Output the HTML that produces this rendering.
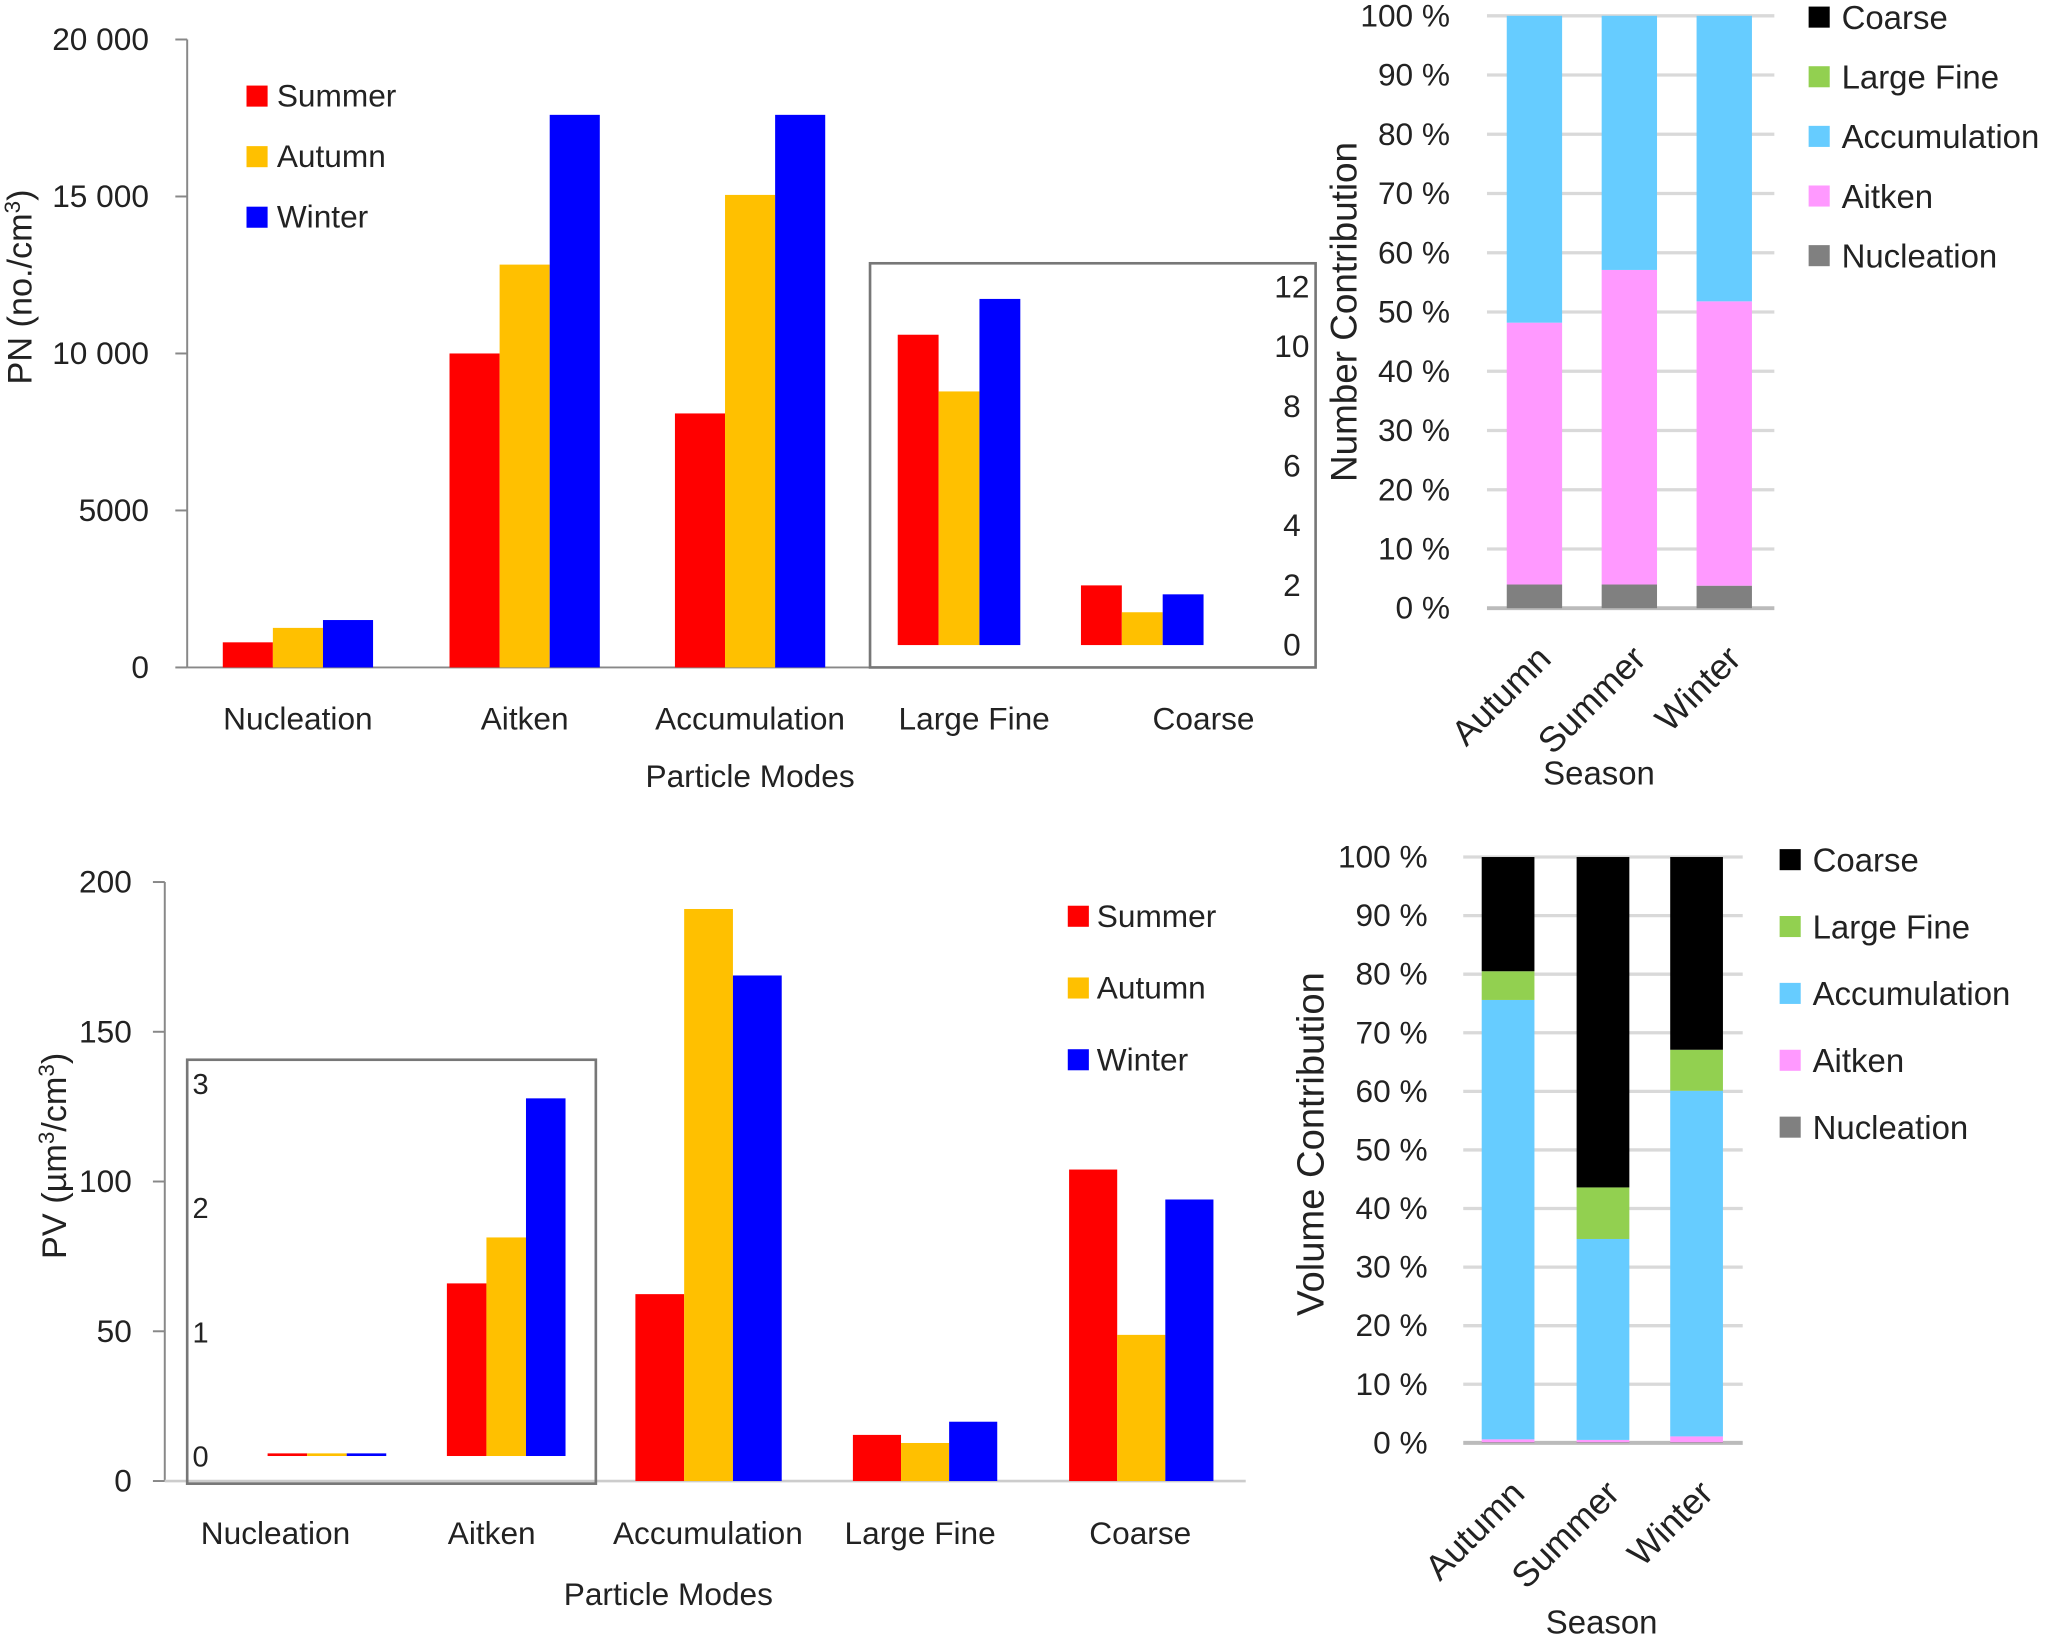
<!DOCTYPE html>
<html><head><meta charset="utf-8"><style>
html,body{margin:0;padding:0;background:#fff;}
svg{display:block;font-family:"Liberation Sans",sans-serif;}
</style></head><body>
<svg id="fig" width="2067" height="1639" viewBox="0 0 1568 1245" preserveAspectRatio="none" xmlns="http://www.w3.org/2000/svg"></svg>
<script>
// ---- data ----
const modes = ["Nucleation","Aitken","Accumulation","Large Fine","Coarse"];
const seasons = ["Summer","Autumn","Winter"];
const seasonColors = ["#ff0000","#ffc000","#0000ff"];
// PN (no./cm3); Large Fine & Coarse on inset axis (0-12)
const pnSummer = [800, 10000, 8090, 10.4, 2.0];
const pnAutumn = [1260, 12830, 15050, 8.5, 1.1];
const pnWinter = [1510, 17600, 17600, 11.6, 1.7];
const pnTicks = [0, 5000, 10000, 15000, 20000];
const pnTickLabels = ["0","5000","10 000","15 000","20 000"];
const pnInsetTicks = [0,2,4,6,8,10,12];
// PV (um3/cm3); Nucleation & Aitken on inset axis (0-3)
const pvSummer = [0.02, 1.39, 62.4, 15.4, 104];
const pvAutumn = [0.02, 1.76, 191, 12.7, 48.8];
const pvWinter = [0.02, 2.88, 168.8, 19.8, 94];
const pvTicks = [0, 50, 100, 150, 200];
const pvInsetTicks = [0,1,2,3];
// stacked contributions (%)
const stackSeasons = ["Autumn","Summer","Winter"];
const stackModes = ["Nucleation","Aitken","Accumulation","Large Fine","Coarse"];
const stackColors = ["#808080","#ff99ff","#66ccff","#92d050","#000000"];
const numNucleation = [4.0, 4.0, 3.8];
const numAitken = [44.2, 53.1, 48.0];
const numAccumulation = [51.8, 42.9, 48.2];
const numLargeFine = [0, 0, 0];
const numCoarse = [0, 0, 0];
const volNucleation = [0.1, 0.1, 0.1];
const volAitken = [0.5, 0.4, 1.0];
const volAccumulation = [75.0, 34.3, 59.0];
const volLargeFine = [4.9, 8.8, 7.0];
const volCoarse = [19.5, 56.4, 32.9];
const pctTicks = [0,10,20,30,40,50,60,70,80,90,100];

const svg = document.getElementById('fig');
const NS = "http://www.w3.org/2000/svg";
function el(tag, attrs, parent){
  const e = document.createElementNS(NS, tag);
  for (const k in attrs) e.setAttribute(k, attrs[k]);
  (parent||svg).appendChild(e);
  return e;
}
function txt(s, attrs, parent){ const t = el('text', attrs, parent); t.textContent = s; return t; }

// ================= Chart 1: PN =================
(function(){
  const g = el('g', {});
  
  
  const y = v => 507 - v/20000*477;
  const yi = v => 490 - v/12*272;
  pnTicks.forEach((t,i)=>{
    const tl = txt(pnTickLabels[i], {x:113, y:y(t)+8, 'font-size':24, 'text-anchor':'end', fill:'#222'}, g);
    
    
    el('line',{x1:133,x2:142,y1:y(t),y2:y(t),stroke:'#888','stroke-width':1.5},g);
  });
  el('line',{x1:142,x2:142,y1:30,y2:507,stroke:'#888','stroke-width':1.5},g);
  el('line',{x1:142,x2:660,y1:507,y2:507,stroke:'#888','stroke-width':1.5},g);
  const box = el('rect',{x:660,y:200,width:338,height:307,fill:'none',stroke:'#777','stroke-width':2},g);
  
  
  pnInsetTicks.forEach(t=>{
    const tl = txt(String(t), {x:980, y:yi(t)+8, 'font-size':24, 'text-anchor':'middle', fill:'#222'}, g);
    
    
  });
  const groupX = [169, 341, 512, 681, 820];
  const widths = [38, 38, 38, 31, 31];
  const series = [pnSummer, pnAutumn, pnWinter];
  modes.forEach((m,i)=>{
    series.forEach((s,j)=>{
      const inset = i>=3;
      const top = inset ? yi(s[i]) : y(s[i]);
      const base = inset ? yi(0) : y(0);
      const r = el('rect',{x:groupX[i]+j*widths[i], y:top, width:widths[i], height:base-top, fill:seasonColors[j]},g);
      
      
    });
  });
  const labX = [226,398,569,739,913];
  modes.forEach((m,i)=>{
    const t = txt(m,{x:labX[i],y:554,'font-size':24,'text-anchor':'middle',fill:'#222'},g);
    
    
  });
  const xt = txt('Particle Modes',{x:569,y:598,'font-size':24,'text-anchor':'middle',fill:'#222'},g);
  
  
  const yt = el('text',{x:0,y:0,'font-size':26,'text-anchor':'middle',fill:'#222',transform:'translate(24,218) rotate(-90)'},g);
  yt.innerHTML = 'PN (no./cm<tspan font-size="17" dy="-9">3</tspan><tspan dy="9">)</tspan>';
  
  
  seasons.forEach((s,j)=>{
    const lg = el('g',{},g);
    
    
    el('rect',{x:187,y:65+j*46,width:16,height:16,fill:seasonColors[j]},lg);
    txt(s,{x:210,y:81+j*46,'font-size':24,fill:'#222'},lg);
  });
})();

// ================= Chart 3: PV =================
(function(){
  const g = el('g', {});
  
  
  const y = v => 1125 - v/200*455;
  const yi = v => 1106 - v/3*283;
  pvTicks.forEach(t=>{
    const tl = txt(String(t), {x:100, y:y(t)+8, 'font-size':24, 'text-anchor':'end', fill:'#222'}, g);
    
    
    el('line',{x1:116,x2:125,y1:y(t),y2:y(t),stroke:'#888','stroke-width':1.5},g);
  });
  el('line',{x1:125,x2:125,y1:670,y2:1125,stroke:'#888','stroke-width':1.5},g);
  el('line',{x1:125,x2:945,y1:1125,y2:1125,stroke:'#ccc','stroke-width':2},g);
  const box = el('rect',{x:142,y:805,width:310,height:322,fill:'none',stroke:'#777','stroke-width':2},g);
  
  
  pvInsetTicks.forEach(t=>{
    const tl = txt(String(t), {x:146, y:yi(t)+8, 'font-size':22, fill:'#222'}, g);
    
    
  });
  const groupX = [203, 339, 482, 647, 811];
  const widths = [30, 30, 37, 36.5, 36.5];
  const series = [pvSummer, pvAutumn, pvWinter];
  modes.forEach((m,i)=>{
    series.forEach((s,j)=>{
      const inset = i<2;
      let top = inset ? yi(s[i]) : y(s[i]);
      const base = inset ? yi(0) : y(0);
      let h = base-top; if (h<2){h=2; top=base-2;}
      const r = el('rect',{x:groupX[i]+j*widths[i], y:top, width:widths[i], height:h, fill:seasonColors[j]},g);
      
      
    });
  });
  const labX = [209,373,537,698,865];
  modes.forEach((m,i)=>{
    const t = txt(m,{x:labX[i],y:1173,'font-size':24,'text-anchor':'middle',fill:'#222'},g);
    
    
  });
  const xt = txt('Particle Modes',{x:507,y:1219,'font-size':24,'text-anchor':'middle',fill:'#222'},g);
  
  
  const yt = el('text',{x:0,y:0,'font-size':26,'text-anchor':'middle',fill:'#222',transform:'translate(50,878) rotate(-90)'},g);
  yt.innerHTML = 'PV (µm<tspan font-size="17" dy="-9">3</tspan><tspan dy="9">/cm</tspan><tspan font-size="17" dy="-9">3</tspan><tspan dy="9">)</tspan>';
  
  
  seasons.forEach((s,j)=>{
    const lg = el('g',{},g);
    
    
    el('rect',{x:810,y:688+j*54.5,width:16,height:16,fill:seasonColors[j]},lg);
    txt(s,{x:832,y:704+j*54.5,'font-size':24,fill:'#222'},lg);
  });
})();

// ================= Stacked charts =================
function stacked(prefix, cfg, data){
  const g = el('g', {});
  
  
  const y = v => cfg.y0 - v/100*(cfg.y0-cfg.y100);
  pctTicks.forEach(t=>{
    el('line',{x1:cfg.gx1,x2:cfg.gx2,y1:y(t),y2:y(t),stroke:t===0?'#bbb':'#d9d9d9','stroke-width':t===0?3:2.5},g);
    const tl = txt(t+' %',{x:cfg.lx,y:y(t)+8,'font-size':24,'text-anchor':'end',fill:'#222'},g);
    
    
  });
  stackSeasons.forEach((s,i)=>{
    let cum = 0;
    data.forEach((arr,k)=>{
      const v = arr[i];
      const r = el('rect',{x:cfg.bx[i],y:y(cum+v),width:cfg.bw,height:y(cum)-y(cum+v),fill:stackColors[k]},g);
      
      
      cum += v;
    });
    const cx = cfg.bx[i]+cfg.bw/2;
    const t = txt(s,{x:0,y:0,'font-size':27,'text-anchor':'end',fill:'#222',transform:'translate('+(cx+14)+','+(cfg.y0+40)+') rotate(-45)'},g);
    
    
  });
  const st = txt('Season',{x:cfg.sx,y:cfg.sy,'font-size':25,'text-anchor':'middle',fill:'#222'},g);
  
  
  const yt = txt(cfg.title,{x:0,y:0,'font-size':cfg.tfs,'text-anchor':'middle',fill:'#222',transform:'translate('+cfg.tx+','+cfg.ty+') rotate(-90)'},g);
  
  
  for (let k=4;k>=0;k--){
    const row = 4-k;
    const lg = el('g',{},g);
    
    
    el('rect',{x:cfg.legx,y:cfg.legy+row*cfg.legdy-8,width:16,height:16,fill:stackColors[k]},lg);
    txt(stackModes[k],{x:cfg.legx+25,y:cfg.legy+row*cfg.legdy+9,'font-size':25,fill:'#222'},lg);
  }
}
stacked('number',{y0:462,y100:12,gx1:1128,gx2:1346,lx:1100,bx:[1143,1215,1287],bw:42,sx:1213,sy:596,title:'Number Contribution',tfs:28,tx:1029,ty:237,legx:1372,legy:13,legdy:45.3},
  [numNucleation,numAitken,numAccumulation,numLargeFine,numCoarse]);
stacked('volume',{y0:1096,y100:651,gx1:1110,gx2:1322,lx:1083,bx:[1124,1196,1267],bw:40,sx:1215,sy:1241,title:'Volume Contribution',tfs:29,tx:1004,ty:869,legx:1350,legy:653,legdy:50.8},
  [volNucleation,volAitken,volAccumulation,volLargeFine,volCoarse]);
</script>
</body></html>
